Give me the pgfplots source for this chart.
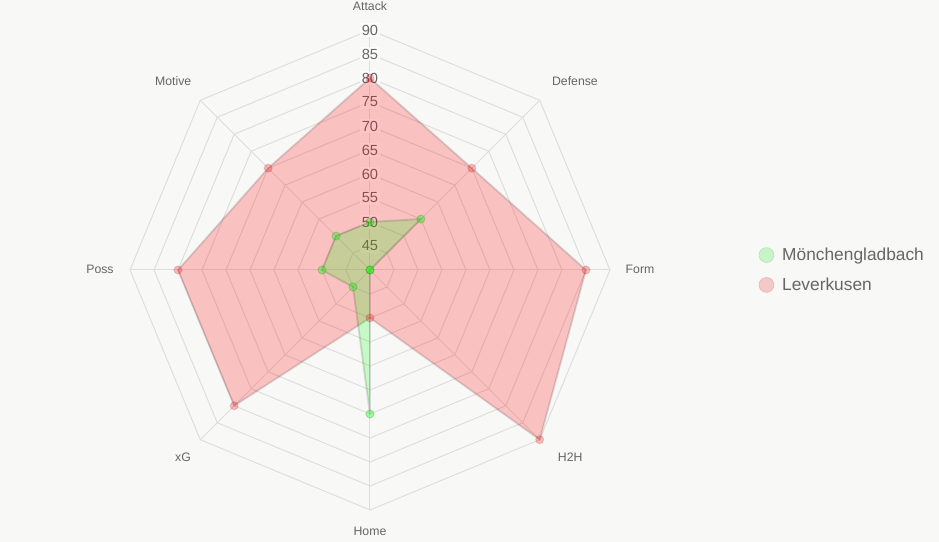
\documentclass[border=0pt]{standalone}
\usepackage{fontspec}
\setmainfont{Liberation Sans}
\usepackage{pgfplots}
\usepackage{pgfplotstable}
\pgfplotsset{compat=1.18}
\definecolor{bgc}{RGB}{248,248,247}
\definecolor{gridc}{RGB}{222,222,222}
\definecolor{txtc}{RGB}{102,102,102}
\definecolor{redc}{RGB}{255,0,0}
\definecolor{greenc}{RGB}{0,255,0}

% angle of each spoke, values of each team (radial scale starts at 40)
\pgfplotstableread{
angle gladbach leverkusen
90 50 80
45 55 70
0 40 85
-45 40 90
-90 70 50
-135 45 80
180 50 80
135 50 70
}\datatable

\begin{document}
\begin{tikzpicture}
\begin{axis}[
  hide axis, scale only axis, width=704.25pt, height=406.5pt,
  xmin=-77.08, xmax=118.54, ymin=-56.67, ymax=56.25,
  clip=false,
  legend style={at={(axis cs:80.1,0.0)}, anchor=west, draw=none, fill=none,
    font=\fontsize{13}{15}\selectfont, text=txtc, row sep=9.5pt,
    nodes={inner sep=1pt},
    /tikz/every odd column/.append style={column sep=5pt}},
  legend cell align=left,
]
\fill[bgc] (rel axis cs:0,0) rectangle (rel axis cs:1,1);
\coordinate (SW) at (rel axis cs:0,0);
\coordinate (NE) at (rel axis cs:1,1);
\begin{scope}[shift={(axis cs:0,0)}, x=3.6pt, y=3.6pt]
\pgfplotsinvokeforeach{5,10,...,50}{\draw[gridc, line width=0.75pt] (0:#1) -- (45:#1) -- (90:#1) -- (135:#1) -- (180:#1) -- (225:#1) -- (270:#1) -- (315:#1) -- cycle;}
\pgfplotsinvokeforeach{0,45,...,315}{\draw[gridc, line width=0.75pt] (0,0) -- (#1:50);}
\end{scope}
% radial tick labels
\tikzset{rt/.style={fill=white, fill opacity=0.8, text opacity=1, inner sep=1.2pt, text=txtc, font=\fontsize{11}{13}\selectfont}}
\node[rt] at (axis cs:0,5) {45};
\node[rt] at (axis cs:0,10) {50};
\node[rt] at (axis cs:0,15) {55};
\node[rt] at (axis cs:0,20) {60};
\node[rt] at (axis cs:0,25) {65};
\node[rt] at (axis cs:0,30) {70};
\node[rt] at (axis cs:0,35) {75};
\node[rt] at (axis cs:0,40) {80};
\node[rt] at (axis cs:0,45) {85};
\node[rt] at (axis cs:0,50) {90};
% spoke labels
\tikzset{pl/.style={text=txtc, inner sep=0pt, font=\fontsize{9.2}{11}\selectfont}}
\node[pl] at (axis cs:0,54.9) {Attack};
\node[pl] at (axis cs:42.7,39.4) {Defense};
\node[pl] at (axis cs:56.25,0.2) {Form};
\node[pl] at (axis cs:41.7,-38.96) {H2H};
\node[pl] at (axis cs:0,-54.4) {Home};
\node[pl] at (axis cs:-38.96,-38.96) {xG};
\node[pl] at (axis cs:-56.25,0.2) {Poss};
\node[pl] at (axis cs:-41.0,39.4) {Motive};

\addplot[forget plot, draw=black, draw opacity=0.13, line width=1.4pt,
  fill=redc, fill opacity=0.22,
  mark=*, mark size=3pt, mark options={line width=0.8pt, fill=redc, fill opacity=0.25, draw=redc!60!black, draw opacity=0.15}]
  table[x expr={(\thisrow{leverkusen}-40)*cos(\thisrow{angle})},
        y expr={(\thisrow{leverkusen}-40)*sin(\thisrow{angle})}] {\datatable} -- cycle;
\addplot[forget plot, draw=black, draw opacity=0.13, line width=1.4pt,
  fill=greenc, fill opacity=0.2,
  mark=*, mark size=3pt, mark options={line width=0.8pt, fill=greenc, fill opacity=0.35, draw=greenc!50!black, draw opacity=0.2}]
  table[x expr={(\thisrow{gladbach}-40)*cos(\thisrow{angle})},
        y expr={(\thisrow{gladbach}-40)*sin(\thisrow{angle})}] {\datatable} -- cycle;

\addlegendimage{legend image code/.code={\fill[fill={rgb,255:red,200;green,245;blue,200}, draw={rgb,255:red,180;green,225;blue,180}] (0.3em,0) circle (5.6pt);}}
\addlegendentry{Mönchengladbach}
\addlegendimage{legend image code/.code={\fill[fill={rgb,255:red,245;green,200;blue,200}, draw={rgb,255:red,228;green,180;blue,180}] (0.3em,0) circle (5.6pt);}}
\addlegendentry{Leverkusen}
\end{axis}
\pgfresetboundingbox
\useasboundingbox (SW) rectangle (NE);
\end{tikzpicture}
\end{document}
